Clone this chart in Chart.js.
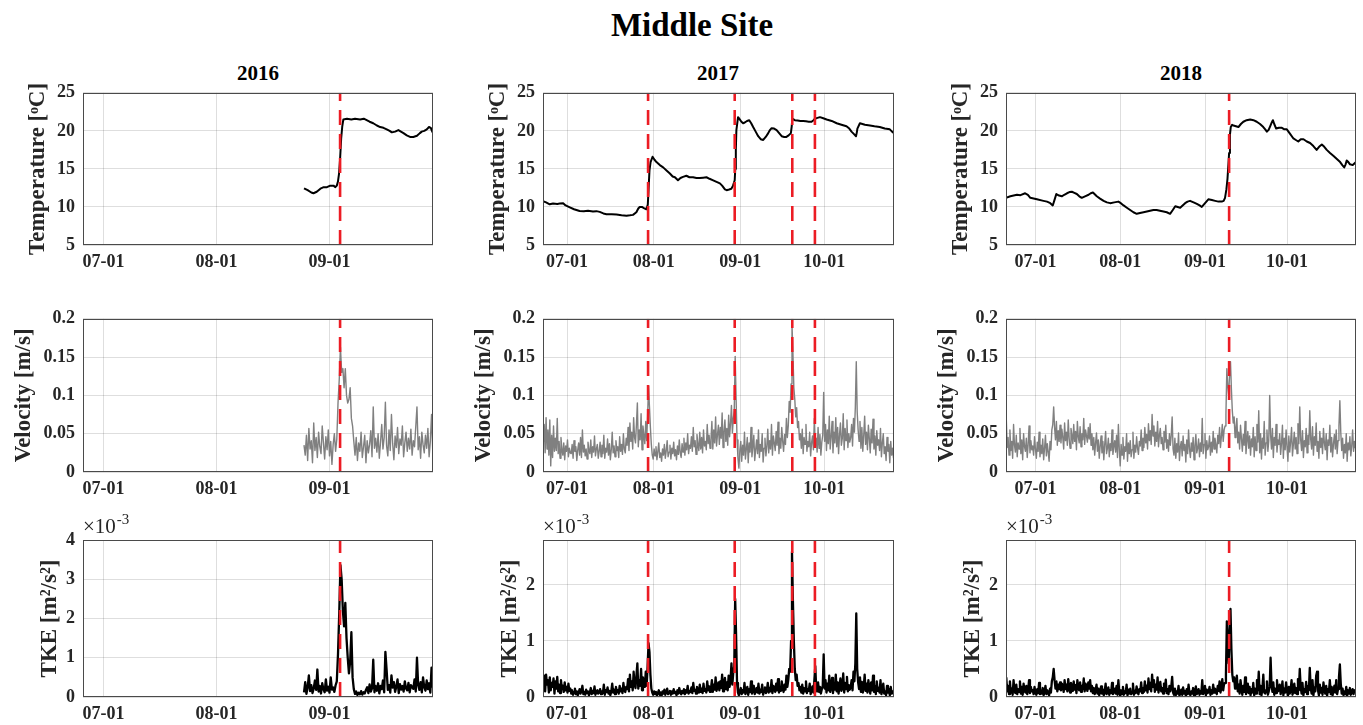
<!DOCTYPE html>
<html><head><meta charset="utf-8">
<script src="https://cdn.jsdelivr.net/npm/chart.js@4.4.0/dist/chart.umd.min.js"></script>
<style>
html,body{margin:0;padding:0;background:#fff;width:1363px;height:725px;overflow:hidden;position:relative;}
canvas{position:absolute;}
.t{position:absolute;font-family:"Liberation Serif","Times New Roman",serif;font-weight:bold;color:#000;white-space:nowrap;transform:translateX(-50%);line-height:1;}
</style></head><body>
<div class="t" style="left:692px;top:9px;font-size:33px;">Middle Site</div>
<div class="t" style="left:258px;top:63px;font-size:21px;">2016</div>
<div class="t" style="left:718px;top:63px;font-size:21px;">2017</div>
<div class="t" style="left:1181px;top:63px;font-size:21px;">2018</div>
<script>
// ---------- axes / categories (days since 07-01) ----------
const dateTickVals = [0, 31, 62, 92];
const dateTickLabels = ['07-01', '08-01', '09-01', '10-01'];
const xRange2016 = [-5.65, 90.4];
const xRange2017 = [-8.6, 117.0];
const xRange2018 = [-10.8, 117.2];
const events2016 = [64.9];
const events2017 = [29.0, 60.0, 80.6, 88.7];
const events2018 = [70.8];
const tempTicks = [5, 10, 15, 20, 25];
const tempTickLabels = ['5', '10', '15', '20', '25'];
const velTicks = [0, 0.05, 0.1, 0.15, 0.2];
const velTickLabels = ['0', '0.05', '0.1', '0.15', '0.2'];
const tkeTicks2016 = [0, 1, 2, 3, 4];
const tkeTickLabels2016 = ['0', '1', '2', '3', '4'];
const tkeTicks = [0, 1, 2];
const tkeTickLabels = ['0', '1', '2'];
const tkeMax = 2.8;

// ---------- temperature [day, degC] ----------
const temp2016 = [[55.0,12.45],[56.0,12.2],[57.0,11.9],[57.6,11.8],[58.5,12.0],[59.5,12.4],[60.4,12.6],[61.3,12.6],[62.2,12.8],[63.1,12.8],
[63.6,12.6],[64.0,12.8],[64.3,13.3],[64.6,14.3],[64.9,16.3],[65.2,19.0],[65.5,20.6],[65.8,21.5],[66.8,21.6],[68.0,21.5],
[69.0,21.6],[70.4,21.5],[71.4,21.6],[72.2,21.4],[73.0,21.2],[74.0,21.0],[75.0,20.7],[75.9,20.5],[76.8,20.4],[77.7,20.2],
[78.5,20.0],[79.1,19.8],[80.0,19.9],[80.9,20.1],[81.6,19.9],[82.3,19.7],[83.2,19.4],[84.1,19.2],[85.0,19.2],[86.0,19.35],
[86.8,19.7],[87.3,19.9],[88.0,20.0],[88.7,20.2],[89.3,20.5],[89.8,20.4],[90.1,20.0],[90.4,19.7]];
const temp2017 = [[-8.6,10.75],[-7.5,10.6],[-6.2,10.35],[-5,10.45],[-3.5,10.4],[-2.6,10.45],[-1.4,10.5],[-0.5,10.2],[1,9.95],[2.5,9.7],
[4.5,9.47],[6,9.45],[7.5,9.5],[9.3,9.4],[10.5,9.45],[11.7,9.35],[13,9.15],[14.1,9.05],[16,9.05],[17.7,9.0],
[19.5,8.9],[21.3,8.85],[22.5,8.9],[23.6,8.96],[24.8,9.3],[25.5,9.8],[26,10.0],[26.8,10.0],[27.5,9.85],[28.4,9.7],
[28.9,10.3],[29.2,12.5],[29.5,14.8],[29.9,15.9],[30.6,16.6],[31.3,16.2],[32,15.9],[33.2,15.5],[34.4,15.2],[35.6,14.8],
[36.8,14.4],[37.8,14.0],[38.6,13.9],[39.7,13.5],[40.6,13.8],[41.5,13.95],[42.7,14.1],[43.8,13.9],[45.1,13.9],[46.3,13.8],
[47.5,13.8],[48.7,13.85],[49.9,13.9],[51,13.7],[52.3,13.5],[53.5,13.3],[54.7,13.1],[55.5,12.8],[55.9,12.6],[56.5,12.3],
[57.1,12.2],[58,12.3],[58.8,12.4],[59.4,12.8],[60.0,13.5],[60.2,15.0],[60.4,17.5],[60.6,20.1],[61.2,21.8],[61.8,21.5],
[62.4,21.2],[63.0,21.0],[63.6,21.1],[64.4,21.3],[65.2,21.4],[65.9,21.0],[66.6,20.5],[67.5,19.9],[68.4,19.3],[69.3,18.9],
[70.2,18.8],[71.1,19.2],[72,19.7],[72.6,20.1],[73.2,20.35],[74.1,20.3],[75,20.1],[75.9,19.7],[76.8,19.3],[77.7,19.2],
[78.5,19.2],[79.3,19.4],[80.1,19.7],[80.4,20.6],[80.6,21.6],[81.5,21.4],[82.5,21.35],[83.5,21.3],[84.5,21.3],[85.5,21.25],
[86.5,21.2],[87.5,21.2],[88.2,21.4],[88.7,21.6],[89.6,21.7],[90.5,21.8],[91.7,21.65],[92.9,21.5],[94.7,21.3],[96.5,21.0],
[98.2,20.8],[100,20.6],[101,20.3],[101.8,19.9],[102.6,19.6],[103.4,19.3],[103.7,19.8],[103.9,20.3],[104.8,21.0],[106.6,20.8],
[108.4,20.7],[110,20.6],[111.9,20.5],[113.7,20.3],[115.5,20.2],[116.3,19.9],[117,19.7]];
const temp2018 = [[-10.8,11.2],[-9.2,11.4],[-8,11.5],[-6.8,11.6],[-5.5,11.55],[-3.8,11.8],[-2.8,11.6],[-1.9,11.2],[0.5,11.0],[2.9,10.8],
[4.2,10.7],[5.4,10.5],[6.3,10.2],[7.0,11.0],[7.6,11.7],[8.6,11.5],[9.6,11.4],[10.5,11.6],[11.5,11.8],[12.4,11.95],
[13.3,12.0],[14.2,11.85],[15.1,11.7],[16,11.4],[16.9,11.2],[18.1,11.4],[19.4,11.6],[20.2,11.8],[21,11.9],[22.4,11.4],
[23.6,11.1],[24.9,10.8],[26.1,10.6],[27.3,10.5],[28.8,10.6],[30.3,10.7],[31.2,10.5],[32.2,10.2],[33.4,9.9],[34.6,9.6],
[35.8,9.3],[37,9.1],[38.2,9.2],[39.5,9.3],[40.7,9.4],[41.9,9.5],[43.1,9.6],[44.3,9.6],[45.5,9.5],[46.8,9.4],
[48,9.3],[49.2,9.1],[50.2,9.6],[51.1,10.1],[52,10.0],[52.9,9.9],[53.8,10.2],[54.7,10.5],[55.6,10.7],[56.5,10.8],
[57.8,10.6],[59,10.4],[60,10.2],[60.8,10.0],[62,10.5],[63.2,11.0],[64.5,10.9],[65.7,10.8],[66.9,10.7],[68.1,10.7],
[68.8,10.8],[69.3,11.2],[69.8,12.3],[70.2,13.7],[70.8,17.1],[71.1,19.5],[71.4,20.5],[71.9,20.8],[72.4,20.7],[73.3,20.6],
[74.2,20.5],[75.1,20.9],[76,21.2],[77.2,21.4],[78.5,21.5],[79.7,21.4],[80.9,21.2],[82.1,20.9],[83.3,20.5],[84,20.2],
[84.6,19.9],[85.2,20.1],[85.8,20.6],[86.4,21.1],[86.8,21.4],[87.3,20.9],[88,20.3],[89,20.4],[90.1,20.4],[91,20.2],
[91.9,20.2],[93.1,19.6],[94.3,19.0],[95.2,18.8],[96.1,18.6],[97,18.9],[98,18.9],[99.2,18.6],[100.4,18.4],[101.6,18.0],
[102.8,17.5],[103.7,17.9],[104.7,18.2],[105.6,17.9],[106.5,17.5],[107.7,17.1],[109,16.7],[110.2,16.3],[111.4,15.9],[112.2,15.5],
[112.9,15.2],[113.4,15.6],[113.8,16.1],[114.4,15.9],[115,15.6],[116,15.5],[117.2,15.9]];

// ---------- velocity & TKE: samples every 1/3 day from a start day ----------
const SAMPLE_STEP = 1 / 3;
const start2016 = 55.0, start2017 = -8.5, start2018 = -10.7;
// velocity in mm/s
const vel2016 = [35,22,48,15,57,30,41,12,64,28,45,19,52,33,24,60,38,17,46,29,55,21,40,10,36,50,27,43,90,120,
163,130,135,110,135,100,90,95,110,70,60,40,22,45,15,38,27,52,19,33,48,12,41,25,36,54,20,85,31,44,
26,50,18,39,62,30,45,91,34,21,55,28,75,37,16,47,32,58,24,43,35,60,20,38,52,27,44,30,56,22,
41,33,59,85,29,46,18,52,36,25,48,31,57,20,40,75,27];
const vel2017 = [38,62,25,71,30,55,22,68,8,48,19,60,27,44,28,70,24,40,18,45,30,22,38,16,34,27,42,20,31,25,
24,36,18,41,27,33,15,29,38,22,45,19,55,26,35,21,30,17,39,28,24,42,19,33,26,47,21,30,36,18,
27,39,20,35,24,48,18,31,26,43,22,37,16,29,52,25,34,20,41,28,33,19,46,27,36,23,50,30,25,44,
35,58,28,64,40,52,30,71,45,38,62,90,33,55,42,76,29,60,48,37,66,41,74,112,85,58,36,22,17,30,
21,33,16,27,38,19,25,14,30,22,36,18,28,41,20,26,35,17,31,24,39,21,29,16,34,23,42,25,19,37,
26,44,22,38,29,50,24,35,31,46,27,58,33,41,23,49,36,28,52,30,45,25,55,34,40,29,62,37,48,31,
42,66,30,55,38,72,34,49,61,36,58,44,77,32,52,68,40,57,35,74,46,63,87,51,70,80,151,96,42,18,
5,28,40,14,35,22,52,17,30,45,12,38,26,58,20,33,48,15,29,42,24,55,19,36,27,50,13,31,44,21,
34,56,25,41,30,62,22,47,38,28,53,35,65,24,44,31,58,40,27,49,36,70,45,60,92,78,115,193,155,110,
95,72,84,58,66,42,50,31,56,24,45,36,62,27,40,33,52,21,38,47,29,70,35,44,26,58,31,49,22,39,
48,104,40,62,28,55,37,73,30,46,66,25,52,38,71,33,58,24,49,64,35,44,76,29,57,41,68,32,50,39,
45,62,34,70,52,85,144,78,55,40,66,31,58,27,48,73,36,52,29,61,44,25,56,38,69,30,47,22,54,35,
42,28,57,20,38,50,24,33,15,45,27,36,12,40,22,31,18];
const vel2018 = [70,32,45,22,55,28,40,18,62,35,26,48,20,38,30,57,24,42,16,50,33,27,44,19,36,60,25,41,29,34,
22,46,30,18,39,27,52,20,35,24,43,16,31,48,21,37,26,14,40,29,55,62,85,58,42,66,35,54,40,61,
38,56,45,30,64,41,52,35,68,44,31,57,48,37,62,40,53,29,66,46,38,59,33,50,42,70,36,55,47,39,
58,43,63,35,50,29,45,22,38,51,27,42,18,34,47,25,40,16,36,53,24,31,44,20,37,28,55,23,33,41,
26,48,19,62,30,8,36,22,45,17,33,27,50,14,38,24,41,20,29,52,18,35,26,46,31,23,40,34,55,28,
44,32,58,38,49,30,63,41,54,36,75,47,60,34,52,40,66,33,48,57,37,45,29,53,39,61,31,42,27,50,
35,48,72,30,22,44,18,37,26,51,15,33,40,21,47,28,36,13,42,24,55,30,19,38,27,45,16,34,49,25,
31,43,20,38,27,70,24,36,50,18,41,29,33,47,22,39,26,53,30,44,35,25,48,37,58,32,46,62,40,55,
60,75,135,112,100,128,144,108,80,64,72,45,58,70,38,52,30,61,44,27,49,35,66,24,40,53,31,47,22,43,
33,58,20,46,28,62,39,80,25,50,17,44,31,66,22,38,55,27,41,100,48,30,57,19,45,35,62,26,42,36,
50,23,38,61,18,44,29,55,33,14,47,26,40,58,21,36,52,30,45,24,63,37,85,42,28,54,19,41,33,57,
25,48,36,80,43,30,59,22,46,35,64,27,40,18,53,32,44,24,57,38,29,50,16,42,35,61,26,45,20,37,
49,30,55,24,41,60,93,52,28,44,18,36,25,50,14,38,29,46,21,34,55,27,40,31];
// TKE in 1e-5 m^2/s^2
const tke2016 = [12,38,8,25,55,15,30,10,22,42,18,70,14,28,9,35,20,12,45,16,26,11,50,19,24,13,30,40,110,213,
336,300,220,180,240,150,100,60,90,165,50,20,8,14,5,11,7,15,6,12,9,18,25,10,32,14,22,95,12,28,
16,35,9,28,20,42,12,115,70,18,30,11,55,24,38,13,26,45,10,33,19,28,14,40,22,17,36,12,30,25,
21,45,14,100,30,18,38,12,50,25,16,42,20,35,11,75,24];
const tke2017 = [15,38,10,40,22,30,8,35,12,25,18,33,6,28,15,36,10,22,7,30,14,20,9,26,12,18,8,24,11,15,
6,12,4,9,15,5,10,3,8,14,6,11,20,5,9,4,13,7,10,3,8,16,5,11,7,19,4,9,12,6,
8,14,5,10,7,22,4,12,9,17,6,11,3,10,24,8,13,5,18,9,12,6,20,10,15,7,25,12,9,18,
14,32,10,40,18,28,12,45,22,16,38,60,15,30,20,50,12,35,24,18,45,20,55,96,80,40,15,8,4,10,
5,9,3,7,12,4,8,2,10,6,13,4,9,15,5,8,11,4,10,6,14,7,9,3,12,6,16,8,5,11,
7,14,5,12,8,20,6,10,9,17,7,25,11,13,6,18,10,8,22,9,15,7,24,11,14,8,28,12,19,9,
15,30,9,22,13,35,11,18,26,12,28,16,40,10,22,34,14,26,12,38,18,30,60,22,45,55,175,110,25,8,
3,10,16,5,12,8,25,5,10,18,4,14,9,28,6,12,20,5,10,16,8,24,6,13,9,22,4,11,17,7,
12,25,8,16,10,30,7,20,14,9,24,12,32,8,18,11,28,15,9,22,13,38,18,30,50,45,100,259,170,100,
50,30,40,20,25,12,18,8,22,6,16,10,28,7,14,11,24,5,12,19,8,30,55,16,10,26,9,18,6,14,
20,76,15,30,8,24,12,38,9,18,34,7,22,13,40,10,26,6,20,33,11,16,42,8,25,14,36,10,21,13,
18,30,12,45,28,60,149,50,26,14,35,9,27,8,18,40,11,24,8,30,16,6,26,12,38,9,20,5,28,11,
16,8,30,5,12,24,6,10,3,20,8,14,3,18,6,10,5];
const tke2018 = [35,10,20,5,28,8,15,4,30,12,7,22,5,14,9,28,6,18,4,24,11,8,20,5,13,30,7,18,10,12,
5,18,8,4,14,7,25,5,11,6,16,3,9,20,5,12,7,3,15,8,28,35,50,30,15,28,10,22,14,26,
12,24,18,9,30,14,22,10,32,16,8,25,18,11,28,13,21,7,30,17,12,26,9,20,14,33,10,24,17,11,
26,15,30,10,20,7,16,5,12,22,6,15,3,10,19,6,13,3,11,24,5,9,17,4,12,7,25,5,10,15,
6,20,4,30,8,2,12,5,18,4,10,7,22,3,13,6,15,5,8,24,4,11,7,19,9,5,14,10,26,7,
16,9,28,12,20,8,33,14,25,10,40,18,30,9,22,13,35,8,19,27,10,16,6,24,11,31,7,14,5,20,
10,18,36,8,4,15,3,10,6,20,2,8,13,4,17,6,11,2,14,5,22,7,3,10,6,16,2,9,19,5,
8,14,4,11,6,30,5,10,20,3,13,7,9,18,4,12,6,22,8,15,10,5,20,11,28,8,16,32,12,24,
25,40,135,100,60,120,157,85,40,28,35,15,25,38,10,22,6,30,16,4,20,9,35,5,12,24,7,18,3,14,
8,25,3,15,6,30,12,45,5,20,3,14,40,8,6,12,28,4,10,18,70,22,9,26,4,15,7,30,10,12,
22,5,12,28,3,15,8,26,10,2,18,6,13,30,4,10,24,7,16,5,32,12,50,18,6,25,3,14,9,27,
5,20,12,52,16,6,30,3,17,10,38,45,12,3,22,8,16,4,26,12,6,20,2,14,9,30,5,18,3,11,
20,8,30,5,14,35,58,24,6,15,3,10,5,18,2,12,6,16,4,9,14,5,12,8];
const VEL_UNIT = 0.001;   // mm/s -> m/s
const TKE_UNIT = 0.01;    // 1e-5 -> axis units of 1e-3

// ---------- styling / layout ----------
const FONT = '"Liberation Serif", "Times New Roman", serif';
const TXT = '#262626';
const GRID = 'rgba(0,0,0,0.13)';
const RED = 'rgb(236,28,36)';
const colLeft = [83, 543, 1006];
const colWidth = [350, 351, 350];
const rowTop = [88, 314, 540];
const rowHeight = [157, 158, 157];
const rowPadTop = [14, 14, 32];
const rowTitlePad = [24, 10, 36];
const YW = 83, XH = 34, PAD_R = 8;

const boxPlugin = {
  id: 'box',
  afterDatasetsDraw(chart) {
    const {ctx, chartArea: a} = chart;
    ctx.save();
    ctx.strokeStyle = '#4a4a4a';
    ctx.lineWidth = 1;
    ctx.strokeRect(Math.round(a.left) + 0.5, Math.round(a.top) + 0.5, Math.round(a.width) - 1, Math.round(a.height) - 1);
    ctx.restore();
  }
};
const expPlugin = {
  id: 'expLabel',
  afterDraw(chart, args, opts) {
    if (!opts || !opts.show) return;
    const {ctx, chartArea: a} = chart;
    ctx.save();
    ctx.fillStyle = TXT;
    ctx.textBaseline = 'alphabetic';
    ctx.textAlign = 'left';
    ctx.font = '21px ' + FONT;
    ctx.fillText('×10', a.left, a.top - 7);
    const w = ctx.measureText('×10').width;
    ctx.font = '15px ' + FONT;
    ctx.fillText('-3', a.left + w + 1, a.top - 16);
    ctx.restore();
  }
};

function pairsData(arr) { return arr.map(p => ({x: p[0], y: p[1]})); }
function sampled(start, vals, unit) { return vals.map((v, i) => ({x: start + i * SAMPLE_STEP, y: v * unit})); }
function eventSets(events, ymin, ymax) {
  return events.map(d => ({
    data: [{x: d, y: ymin}, {x: d, y: ymax}],
    borderColor: RED, borderWidth: 2.6, borderDash: [15, 9], pointRadius: 0, order: 0, borderCapStyle: 'butt'
  }));
}

function makeChart(col, row, xRange, yMin, yMax, yTicks, yTickLabels, yTitle, series, events, exp) {
  const c = document.createElement('canvas');
  const w = YW + colWidth[col] + PAD_R;
  const h = rowPadTop[row] + rowHeight[row] + XH;
  c.width = w; c.height = h;
  c.style.left = (colLeft[col] - YW) + 'px';
  c.style.top = (rowTop[row] - rowPadTop[row]) + 'px';
  c.style.width = w + 'px'; c.style.height = h + 'px';
  document.body.appendChild(c);
  const tickFont = {family: FONT, size: 18, weight: 'bold'};
  new Chart(c, {
    type: 'line',
    data: {datasets: [...eventSets(events, yMin, yMax), series]},
    options: {
      responsive: false, animation: false, devicePixelRatio: 1,
      layout: {padding: {top: rowPadTop[row], right: PAD_R, left: 0, bottom: 0}},
      plugins: {legend: {display: false}, tooltip: {enabled: false}, expLabel: {show: exp}},
      elements: {line: {tension: 0, borderJoinStyle: 'round'}, point: {radius: 0}},
      scales: {
        x: {
          type: 'linear', min: xRange[0], max: xRange[1],
          afterFit(s) { s.height = XH; },
          afterBuildTicks(s) { s.ticks = dateTickVals.filter(v => v >= xRange[0] && v <= xRange[1]).map(v => ({value: v})); },
          ticks: {callback: v => dateTickLabels[dateTickVals.indexOf(v)], font: tickFont, color: TXT, padding: 7, maxRotation: 0, autoSkip: false},
          grid: {color: GRID, drawTicks: false, lineWidth: 1},
          border: {display: false}
        },
        y: {
          type: 'linear', min: yMin, max: yMax,
          afterFit(s) { s.width = YW; },
          afterBuildTicks(s) { s.ticks = yTicks.map(v => ({value: v})); },
          ticks: {callback: v => yTickLabels[yTicks.indexOf(v)], font: tickFont, color: TXT, padding: 8},
          grid: {color: GRID, drawTicks: false, lineWidth: 1},
          border: {display: false},
          title: {display: true, text: yTitle, font: {family: FONT, size: 23, weight: 'bold'}, color: TXT, padding: {top: rowTitlePad[row], bottom: 0}}
        }
      }
    },
    plugins: [boxPlugin, expPlugin]
  });
}

function tempSeries(arr) { return {data: pairsData(arr), borderColor: '#000', borderWidth: 2, pointRadius: 0, order: 1}; }
function velSeries(start, vals) { return {data: sampled(start, vals, VEL_UNIT), borderColor: '#808080', borderWidth: 1.4, pointRadius: 0, order: 1}; }
function tkeSeries(start, vals) { return {data: sampled(start, vals, TKE_UNIT), borderColor: '#000', borderWidth: 2.3, pointRadius: 0, order: 1}; }

const TT = 'Temperature [ᵒC]', VT = 'Velocity [m/s]', KT = 'TKE [m²/s²]';
makeChart(0, 0, xRange2016, 5, 25, tempTicks, tempTickLabels, TT, tempSeries(temp2016), events2016, false);
makeChart(1, 0, xRange2017, 5, 25, tempTicks, tempTickLabels, TT, tempSeries(temp2017), events2017, false);
makeChart(2, 0, xRange2018, 5, 25, tempTicks, tempTickLabels, TT, tempSeries(temp2018), events2018, false);
makeChart(0, 1, xRange2016, 0, 0.2, velTicks, velTickLabels, VT, velSeries(start2016, vel2016), events2016, false);
makeChart(1, 1, xRange2017, 0, 0.2, velTicks, velTickLabels, VT, velSeries(start2017, vel2017), events2017, false);
makeChart(2, 1, xRange2018, 0, 0.2, velTicks, velTickLabels, VT, velSeries(start2018, vel2018), events2018, false);
makeChart(0, 2, xRange2016, 0, 4, tkeTicks2016, tkeTickLabels2016, KT, tkeSeries(start2016, tke2016), events2016, true);
makeChart(1, 2, xRange2017, 0, tkeMax, tkeTicks, tkeTickLabels, KT, tkeSeries(start2017, tke2017), events2017, true);
makeChart(2, 2, xRange2018, 0, tkeMax, tkeTicks, tkeTickLabels, KT, tkeSeries(start2018, tke2018), events2018, true);
</script>
</body></html>
